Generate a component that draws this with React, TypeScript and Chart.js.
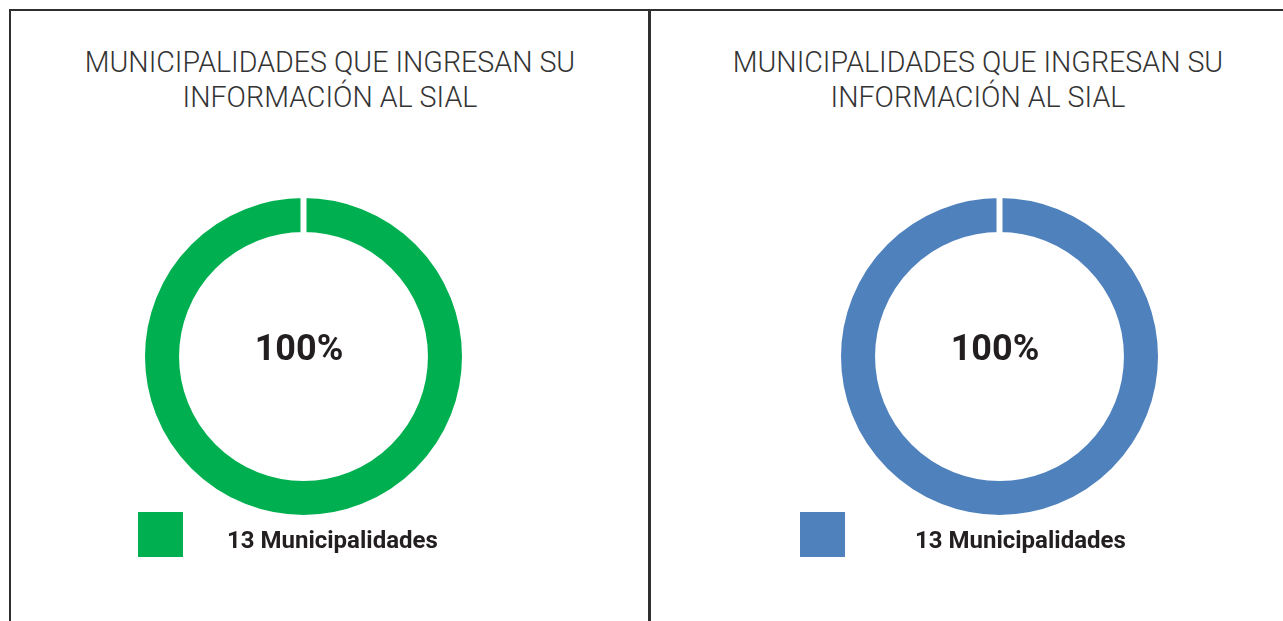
import React, { useEffect, useRef } from 'react';
import { Chart, registerables } from 'chart.js';

Chart.register(...registerables);

// ---- data ----
const titleLines: string[] = ['MUNICIPALIDADES QUE INGRESAN SU', 'INFORMACIÓN AL SIAL'];
const categories: string[] = ['13 Municipalidades'];
const leftValues: number[] = [100];
const rightValues: number[] = [100];
const centerLabels: string[] = ['100%', '100%'];
const leftColors: string[] = ['#00B050'];
const rightColors: string[] = ['#4F81BD'];

const TEXT_DARK = '#231F20';
const LINE = '#2f2f2f';

const centerTextPlugin = {
  id: 'centerText',
  afterDraw(chart: any, _args: any, opts: any) {
    const { ctx, chartArea } = chart;
    const cx = (chartArea.left + chartArea.right) / 2;
    const cy = (chartArea.top + chartArea.bottom) / 2;
    ctx.save();
    ctx.font = 'bold 36px Roboto, "Noto Sans", sans-serif';
    ctx.fillStyle = TEXT_DARK;
    ctx.textAlign = 'center';
    ctx.textBaseline = 'alphabetic';
    ctx.fillText(opts.text || '', cx - 4.5, cy + 3.5);
    ctx.restore();
  },
};

type DonutProps = {
  values: number[];
  colors: string[];
  label: string;
  cx: number;
  cy: number;
};

const HALF = 170;

function Donut({ values, colors, label, cx, cy }: DonutProps) {
  const ref = useRef<HTMLCanvasElement | null>(null);
  useEffect(() => {
    if (!ref.current) return;
    const chart = new Chart(ref.current, {
      type: 'doughnut',
      data: {
        labels: categories,
        datasets: [
          {
            data: values,
            backgroundColor: colors,
            borderColor: '#ffffff',
            borderWidth: 6,
            borderAlign: 'center',
          },
        ],
      },
      options: {
        responsive: false,
        animation: false,
        radius: 161.5,
        cutout: '75.2%',
        layout: { padding: 0 },
        plugins: {
          legend: { display: false },
          title: { display: false },
          tooltip: { enabled: false },
          centerText: { text: label },
        } as any,
      },
      plugins: [centerTextPlugin],
    } as any);
    return () => chart.destroy();
  }, [values, colors, label]);
  return (
    <canvas
      ref={ref}
      width={HALF * 2 + 1}
      height={HALF * 2 + 1}
      style={{
        position: 'absolute',
        left: cx - HALF - 0.5,
        top: cy - HALF - 0.5,
        width: HALF * 2 + 1,
        height: HALF * 2 + 1,
      }}
    />
  );
}

type PanelProps = {
  titleCenter: number;
  values: number[];
  colors: string[];
  label: string;
  donutX: number;
  boxX: number;
  textX: number;
};

function Panel({ titleCenter, values, colors, label, donutX, boxX, textX }: PanelProps) {
  return (
    <>
      <div
        style={{
          position: 'absolute',
          left: titleCenter - 300,
          width: 600,
          top: 45,
          textAlign: 'center',
          fontFamily: 'Roboto, "Noto Sans", sans-serif',
          fontWeight: 300,
          fontSize: 28.6,
          lineHeight: '35px',
          color: '#333333',
          whiteSpace: 'nowrap',
        }}
      >
        {titleLines.map((t, i) => (
          <div key={i}>{t}</div>
        ))}
      </div>
      <Donut values={values} colors={colors} label={label} cx={donutX} cy={356.5} />
      <div
        style={{
          position: 'absolute',
          left: boxX,
          top: 512,
          width: 45,
          height: 45,
          background: colors[0],
        }}
      />
      <div
        style={{
          position: 'absolute',
          left: textX,
          top: 525,
          fontFamily: 'Roboto, "Noto Sans", sans-serif',
          fontWeight: 700,
          fontSize: 24,
          lineHeight: '30px',
          color: TEXT_DARK,
          whiteSpace: 'nowrap',
        }}
      >
        {categories[0]}
      </div>
    </>
  );
}

export default function App() {
  return (
    <div
      style={{
        position: 'absolute',
        left: 0,
        top: 0,
        width: 1283,
        height: 621,
        overflow: 'hidden',
        background: '#ffffff',
      }}
    >
      <div style={{ position: 'absolute', left: 9, top: 9, width: 1274, height: 2, background: LINE }} />
      <div style={{ position: 'absolute', left: 9, top: 9, width: 2, height: 612, background: LINE }} />
      <div style={{ position: 'absolute', left: 648, top: 9, width: 3, height: 612, background: LINE }} />
      <Panel
        titleCenter={330}
        values={leftValues}
        colors={leftColors}
        label={centerLabels[0]}
        donutX={303}
        boxX={138}
        textX={227}
      />
      <Panel
        titleCenter={978}
        values={rightValues}
        colors={rightColors}
        label={centerLabels[1]}
        donutX={999}
        boxX={800}
        textX={915}
      />
    </div>
  );
}
